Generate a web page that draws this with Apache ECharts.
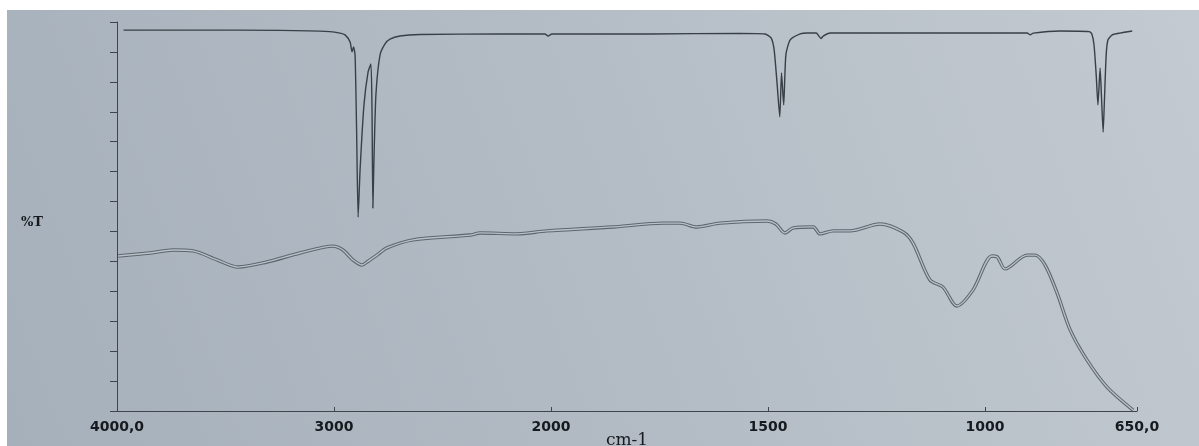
<!DOCTYPE html>
<html>
<head>
<meta charset="utf-8">
<script src="https://cdn.jsdelivr.net/npm/echarts@6/dist/echarts.min.js"></script>
<style>
html,body{margin:0;padding:0;background:#ffffff;}
#chart{width:1199px;height:446px;}
</style>
</head>
<body>
<div id="chart"></div>
<script>
// x tick positions (wavenumber, cm-1) and their printed labels
const xTickWavenumbers = [4000, 3000, 2000, 1500, 1000, 650];
const xTickLabels = ['4000,0', '3000', '2000', '1500', '1000', '650,0'];

// upper trace: wavenumber (cm-1) and %T reading
const topWavenumbers = [3970, 3618, 3249, 3019, 2972, 2949, 2926, 2917, 2910, 2903, 2896, 2889, 2880, 2862, 2843, 2830, 2825, 2821, 2816, 2807, 2788, 2765, 2742, 2696, 2604, 2235, 2028, 2014, 1998, 1772, 1565, 1507, 1493, 1486, 1479, 1473, 1469, 1464, 1459, 1449, 1426, 1410, 1389, 1383, 1378, 1373, 1357, 1196, 903, 896, 889, 827, 760, 754, 749, 744, 740, 735, 732, 728, 725, 721, 717, 707, 689, 661];
const topT = [127.3, 127.3, 127.2, 126.8, 126.3, 125.7, 123.3, 120.0, 121.7, 119.0, 93.9, 64.8, 80.5, 102.3, 113.3, 116.0, 100.6, 67.8, 83.9, 105.6, 119.0, 122.7, 124.3, 125.3, 125.8, 126.0, 126.0, 125.3, 126.0, 126.0, 126.2, 126.0, 124.7, 120.7, 109.0, 98.3, 113.0, 102.3, 119.0, 124.0, 126.0, 126.3, 126.3, 125.3, 124.5, 125.3, 126.3, 126.3, 126.3, 125.7, 126.3, 127.0, 126.8, 126.0, 122.3, 112.3, 102.3, 114.6, 105.6, 93.2, 104.0, 119.0, 124.0, 125.7, 126.3, 127.0];

// lower trace: wavenumber (cm-1) and %T reading
const bottomWavenumbers = [3995, 3848, 3742, 3650, 3539, 3442, 3309, 3157, 3005, 2959, 2913, 2871, 2848, 2802, 2756, 2636, 2373, 2327, 2157, 2019, 1857, 1742, 1703, 1664, 1611, 1502, 1482, 1461, 1442, 1396, 1380, 1350, 1311, 1242, 1189, 1166, 1127, 1097, 1065, 1028, 984, 972, 954, 903, 885, 862, 834, 804, 765, 719, 659];
const bottomT = [51.8, 52.8, 53.8, 53.5, 50.5, 48.1, 49.8, 52.8, 55.1, 53.8, 50.5, 48.8, 49.8, 52.1, 54.5, 57.2, 58.8, 59.5, 59.2, 60.2, 61.5, 62.8, 62.8, 61.5, 62.8, 63.5, 62.5, 59.5, 61.2, 61.5, 59.2, 60.2, 60.2, 62.5, 59.8, 56.1, 43.8, 41.4, 35.1, 40.4, 51.8, 51.5, 47.5, 52.1, 52.1, 48.8, 39.4, 27.1, 17.0, 8.0, 0.3];

// The chart uses a double scale: below 2000 cm-1 each wavenumber takes twice the width.
function toAxis(wn) {
  return wn >= 2000 ? 4000 - wn : 2000 + 2 * (2000 - wn);
}
const tickPos = xTickWavenumbers.map(toAxis);
const labelAt = {};
tickPos.forEach((p, i) => { labelAt[p] = xTickLabels[i]; });

const topData = topWavenumbers.map((w, i) => [toAxis(w), topT[i]]);
const bottomData = bottomWavenumbers.map((w, i) => [toAxis(w), bottomT[i]]);

const chart = echarts.init(document.getElementById('chart'), null, {renderer: 'canvas'});
const axisColor = '#3e454c';
const labelFont = {color: '#161a1e', fontFamily: 'DejaVu Sans', fontWeight: 'bold', fontSize: 14};

chart.setOption({
  animation: false,
  backgroundColor: {
    type: 'linear', x: 0, y: 1, x2: 1, y2: 0,
    colorStops: [
      {offset: 0, color: '#a6b0ba'},
      {offset: 0.5, color: '#b3bcc5'},
      {offset: 1, color: '#c3cad1'}
    ]
  },
  graphic: [
    {type: 'rect', left: 0, top: 0, shape: {width: 1199, height: 10}, style: {fill: '#ffffff'}, z: 100},
    {type: 'rect', left: 0, top: 0, shape: {width: 7, height: 446}, style: {fill: '#ffffff'}, z: 100}
  ],
  grid: {left: 117, right: 62, top: 22, bottom: 35, containLabel: false, outerBoundsMode: 'none'},
  xAxis: {
    type: 'value', min: 0, max: 4700, interval: 1000,
    splitLine: {show: false},
    axisLine: {show: true, lineStyle: {color: axisColor, width: 1}},
    axisTick: {show: true, inside: true, length: 4, customValues: tickPos, lineStyle: {color: axisColor}},
    axisLabel: Object.assign({margin: 9, customValues: tickPos, formatter: v => labelAt[v] || ''}, labelFont),
    name: 'cm-1', nameLocation: 'middle', nameGap: 21, nameMoveOverlap: false,
    nameTextStyle: {color: '#161a1e', fontFamily: 'DejaVu Serif', fontSize: 17}
  },
  yAxis: {
    type: 'value', min: 0, max: 130, interval: 10,
    splitLine: {show: false},
    axisLine: {show: true, lineStyle: {color: axisColor, width: 1}},
    axisTick: {show: true, inside: false, length: 7, lineStyle: {color: axisColor}},
    axisLabel: {show: false},
    name: '%T', nameLocation: 'middle', nameRotate: 0, nameGap: 74,
    nameTextStyle: Object.assign({}, labelFont, {fontSize: 13, fontFamily: 'DejaVu Serif', verticalAlign: 'top'})
  },
  series: [
    {
      type: 'line', data: bottomData, symbol: 'none', smooth: 0.3,
      lineStyle: {color: '#5d666f', width: 3.4}, z: 2
    },
    {
      type: 'line', data: bottomData, symbol: 'none', smooth: 0.3,
      lineStyle: {color: '#b8c0c8', width: 1.3}, z: 3
    },
    {
      type: 'line', data: topData, symbol: 'none', smooth: 0.2,
      lineStyle: {color: '#383f47', width: 1.4}, z: 4
    }
  ]
});
</script>
</body>
</html>
